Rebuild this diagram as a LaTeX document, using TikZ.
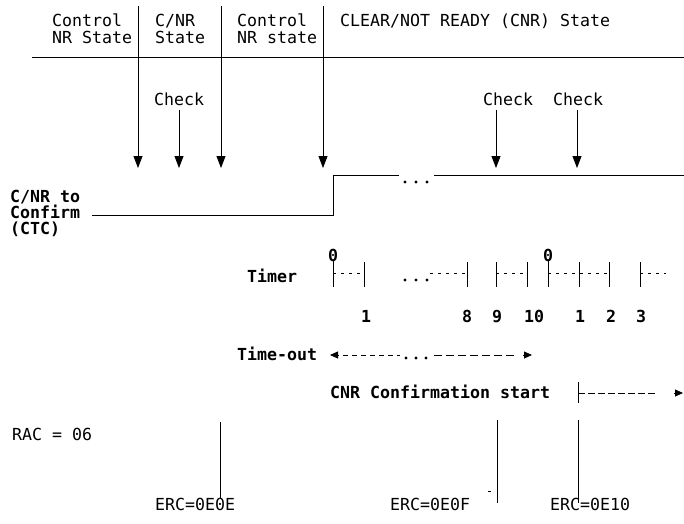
\documentclass[tikz,border=0pt]{standalone}
\usepackage{fontspec}
\setmainfont{DejaVu Sans Mono}
\usetikzlibrary{arrows.meta}
\begin{document}
\begin{tikzpicture}[x=1pt,y=-1pt,
  lbl/.style={inner sep=0pt,anchor=base west,font=\fontsize{16.6}{17}\selectfont},
  blbl/.style={inner sep=0pt,anchor=base west,font=\fontsize{16.6}{17}\selectfont\bfseries},
  num/.style={inner sep=0pt,anchor=base,font=\fontsize{16.6}{17}\selectfont\bfseries},
  ln/.style={line width=0.8pt},
  arr/.style={line width=0.8pt,-{Triangle[length=12pt,width=9pt]}},
  stip/.style={line width=0.8pt,-{Triangle[length=8pt,width=7pt]}},
  dsh/.style={line width=0.7pt,dash pattern=on 7pt off 3pt},
  tdsh/.style={line width=0.7pt,dash pattern=on 3pt off 5pt},
  dotc/.style={fill=black,radius=1.7pt}]
\useasboundingbox (0,0) rectangle (684,523);

% header texts
\node[lbl] (h1a) at (52,26) {Control};
\node[lbl] (h1b) at (52,43) {NR State};
\node[lbl] (h2a) at (155,26) {C/NR};
\node[lbl] (h2b) at (155,43) {State};
\node[lbl] (h3a) at (237,26) {Control};
\node[lbl] (h3b) at (237,43) {NR state};
\node[lbl] (h4) at (340,26) {CLEAR/NOT READY (CNR) State};

% header rule
\coordinate (hl) at (32,57);
\coordinate (hr) at (684,57);
\draw[ln] (hl) -- (hr);

% state-boundary arrows
\coordinate (v1t) at (138,6);   \coordinate (v1b) at (138,168);
\coordinate (v2t) at (221,6);   \coordinate (v2b) at (221,168);
\coordinate (v3t) at (323,6);   \coordinate (v3b) at (323,168);
\draw[arr] (v1t) -- (v1b);
\draw[arr] (v2t) -- (v2b);
\draw[arr] (v3t) -- (v3b);

% checks
\node[lbl] (c1) at (154,105) {Check};
\node[lbl] (c2) at (483,105) {Check};
\node[lbl] (c3) at (553,105) {Check};
\coordinate (c1b) at (179,168);
\coordinate (c2b) at (496,168);
\coordinate (c3b) at (577,168);
\draw[arr] (179,110) -- (c1b);
\draw[arr] (496,110) -- (c2b);
\draw[arr] (577,110) -- (c3b);

% CTC signal
\node[blbl] (ctc1) at (10,202) {C/NR to};
\node[blbl] (ctc2) at (10,218) {Confirm};
\node[blbl] (ctc3) at (10,234) {(CTC)};
\coordinate (s0) at (92,215);
\coordinate (s1) at (333,215);
\coordinate (s2) at (333,175);
\draw[ln] (s0) -- (s1) -- (s2) -- (398,175);
\draw[dsh] (398,175) -- (684,175);
\fill[white] (399,170) rectangle (434,180);
\draw[dsh] (434,175) -- (684,175);
\foreach \x in {405,416,427} \fill[dotc] (\x,182) circle;

% Timer
\node[blbl] (timer) at (247,282) {Timer};
\node[num] (z1) at (333,261) {0};
\node[num] (z2) at (548,261) {0};
\draw[ln] (z1.south) -- (333,287);
\draw[ln] (z2.south) -- (548,287);
\foreach \x in {364,467,496,527,579,609,640} \draw[ln] (\x,262) -- (\x,287);
\draw[tdsh] (333,273) -- (364,273);
\draw[tdsh] (430,273) -- (467,273);
\draw[tdsh] (496,273) -- (527,273);
\draw[tdsh] (548,273) -- (609,273);
\draw[tdsh] (640,273) -- (666,273);
\foreach \x in {405,416,427} \fill[dotc] (\x,280) circle;
\node[num] at (366,322) {1};
\node[num] at (467,322) {8};
\node[num] at (497,322) {9};
\node[num] at (534,322) {10};
\node[num] at (580,322) {1};
\node[num] at (611,322) {2};
\node[num] at (641,322) {3};

% Time-out
\node[blbl] (tout) at (237,360) {Time-out};
\coordinate (ta) at (330,355);
\coordinate (tb) at (532,355);
\draw[stip] (339,355) -- (ta);
\draw[stip] (523,355) -- (tb);
\draw[tdsh,dash pattern=on 5pt off 4pt] (343,355) -- (400,355);
\draw[tdsh,dash pattern=on 8pt off 4pt] (434,355) -- (514,355);
\foreach \x in {406,416,426} \fill[dotc] (\x,358) circle;

% CNR Confirmation start
\node[blbl] (cnr) at (330,398) {CNR Confirmation start};
\draw[ln] (578,382) -- (578,403);
\draw[dsh] (578,393) -- (655,393);
\coordinate (ce) at (683,393);
\draw[stip] (674,393) -- (ce);

% bottom
\node[lbl] (rac) at (12,440) {RAC = 06};
\node[lbl] (e1) at (155,510) {ERC=0E0E};
\node[lbl] (e2) at (390,510) {ERC=0E0F};
\node[lbl] (e3) at (550,510) {ERC=0E10};
\draw[ln] (220,422) -- (220,498);
\draw[ln] (497,420) -- (497,503);
\draw[ln] (578,420) -- (578,503);
\draw[line width=0.7pt] (488,491) -- (491,491);
\end{tikzpicture}
\end{document}
